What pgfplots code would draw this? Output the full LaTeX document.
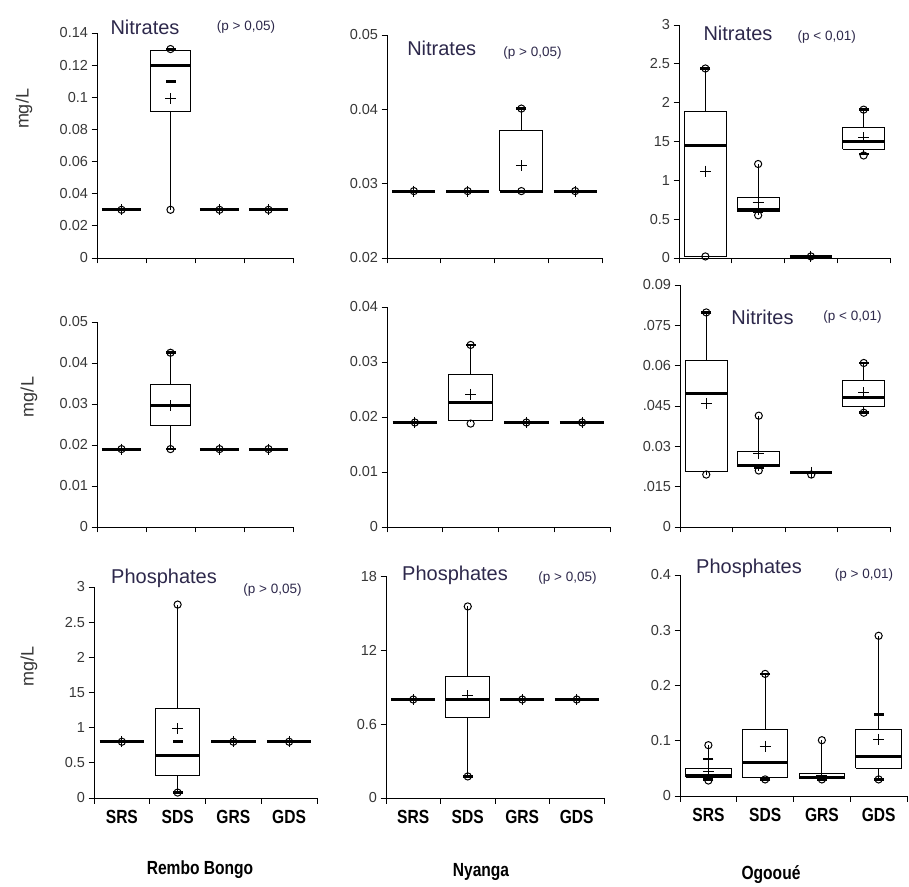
\documentclass[border=0pt]{standalone}
\usepackage{pgfplots}
\pgfplotsset{compat=1.18}
\usepackage{fontspec}
\setmainfont{Liberation Sans}
\newfontfamily\catfont[FakeStretch=0.82]{Liberation Sans}
\definecolor{tickc}{RGB}{55,55,55}
\definecolor{ttl}{RGB}{45,40,75}

\pgfplotsset{
 bp/.style={scale only axis, clip=false,
   axis x line*=bottom, axis y line*=left,
   axis line style={line width=0.9pt},
   xmin=0.5, xmax=4.5,
   xtick={0.5,1.5,2.5,3.5,4.5}, xticklabels={},
   scaled y ticks=false,
   tick align=outside,
   major tick length=5.5pt,
   every tick/.style={black, line width=0.9pt},
   yticklabel style={font=\fontsize{14.5}{16}\selectfont, color=tickc},
 },
 cats/.style={extra x ticks={1,2,3,4},
   extra x tick labels={SRS,SDS,GRS,GDS},
   extra x tick style={major tick length=0pt,
     xticklabel style={font=\catfont\bfseries\fontsize{19}{21}\selectfont, yshift=-9pt}}},
 ln/.style={black, line width=1pt, solid, mark=none},
 md/.style={black, line width=3pt, solid, mark=none},
 mn/.style={black, only marks, mark=+, mark size=5.5pt, line width=1pt},
 ci/.style={black, only marks, mark=o, mark size=3.6pt, line width=1pt},
 da/.style={black, only marks, mark=-, mark size=5pt, line width=2.6pt},
}
% box: left, centre, right, lower whisker, lower quartile, median, upper quartile, upper whisker
\newcommand\bx[8]{%
 \addplot[ln] coordinates {(#2,#4)(#2,#5)};
 \addplot[ln] coordinates {(#2,#7)(#2,#8)};
 \addplot[ln] coordinates {(#1,#5)(#3,#5)(#3,#7)(#1,#7)(#1,#5)};
 \addplot[md] coordinates {(#1,#6)(#3,#6)};}
% flat box (all values equal): left, right, value
\newcommand\fl[3]{\addplot[md] coordinates {(#1,#3)(#2,#3)};}

\begin{document}
\begin{tikzpicture}
\useasboundingbox (0,0) rectangle (909pt,886pt);

% ---------- Row 1 ----------
\begin{axis}[bp, at={(97pt,628pt)}, anchor=south west, width=196pt, height=225pt,
  ymin=0, ymax=0.14, ytick={0,0.02,0.04,0.06,0.08,0.1,0.12,0.14},
  yticklabels={0,0.02,0.04,0.06,0.08,0.1,0.12,0.14}]
\fl{0.6}{1.4}{0.03}
\bx{1.6}{2}{2.4}{0.03}{0.091}{0.12}{0.129}{0.13}
\fl{2.6}{3.4}{0.03}
\fl{3.6}{4.4}{0.03}
\addplot[da] coordinates {(2,0.13)(2,0.11)};
\addplot[ci] coordinates {(1,0.03)(2,0.03)(2,0.13)(3,0.03)(4,0.03)};
\addplot[mn] coordinates {(1,0.03)(2,0.099)(3,0.03)(4,0.03)};
\end{axis}

\begin{axis}[bp, at={(387pt,628pt)}, anchor=south west, width=215pt, height=223pt,
  ymin=0.02, ymax=0.05, ytick={0.02,0.03,0.04,0.05},
  yticklabels={0.02,0.03,0.04,0.05}]
\fl{0.6}{1.4}{0.029}
\fl{1.6}{2.4}{0.029}
\bx{2.6}{3}{3.4}{0.029}{0.029}{0.029}{0.0372}{0.0401}
\fl{3.6}{4.4}{0.029}
\addplot[da] coordinates {(3,0.0401)};
\addplot[ci] coordinates {(1,0.029)(2,0.029)(3,0.029)(3,0.0401)(4,0.029)};
\addplot[mn] coordinates {(1,0.029)(2,0.029)(3,0.0324)(4,0.029)};
\end{axis}

\begin{axis}[bp, at={(679pt,628pt)}, anchor=south west, width=211pt, height=233pt,
  ymin=0, ymax=3, ytick={0,0.5,1,1.5,2,2.5,3},
  yticklabels={0,0.5,1,15,2,2.5,3}]
\bx{0.6}{1}{1.4}{0.02}{0.02}{1.45}{1.88}{2.44}
\bx{1.6}{2}{2.4}{0.55}{0.6}{0.63}{0.78}{1.21}
\fl{2.6}{3.4}{0.02}
\bx{3.6}{4}{4.4}{1.32}{1.4}{1.5}{1.68}{1.91}
\addplot[da] coordinates {(1,2.44)(2,0.6)(4,1.91)(4,1.34)};
\addplot[ci] coordinates {(1,0.02)(1,2.44)(2,0.55)(2,1.21)(3,0.02)(4,1.32)(4,1.91)};
\addplot[mn] coordinates {(1,1.12)(2,0.72)(3,0.02)(4,1.55)};
\end{axis}

% ---------- Row 2 ----------
\begin{axis}[bp, at={(97pt,359pt)}, anchor=south west, width=196pt, height=205pt,
  ymin=0, ymax=0.05, ytick={0,0.01,0.02,0.03,0.04,0.05},
  yticklabels={0,0.01,0.02,0.03,0.04,0.05}]
\fl{0.6}{1.4}{0.019}
\bx{1.6}{2}{2.4}{0.019}{0.0247}{0.0296}{0.0348}{0.0425}
\fl{2.6}{3.4}{0.019}
\fl{3.6}{4.4}{0.019}
\addplot[da] coordinates {(2,0.0425)(2,0.019)};
\addplot[ci] coordinates {(1,0.019)(2,0.019)(2,0.0425)(3,0.019)(4,0.019)};
\addplot[mn] coordinates {(1,0.019)(2,0.0296)(3,0.019)(4,0.019)};
\end{axis}

\begin{axis}[bp, at={(387pt,359pt)}, anchor=south west, width=223pt, height=220pt,
  ymin=0, ymax=0.04, ytick={0,0.01,0.02,0.03,0.04},
  yticklabels={0,0.01,0.02,0.03,0.04}]
\fl{0.6}{1.4}{0.019}
\bx{1.6}{2}{2.4}{0.019}{0.0193}{0.0227}{0.0278}{0.0331}
\fl{2.6}{3.4}{0.019}
\fl{3.6}{4.4}{0.019}
\addplot[da] coordinates {(2,0.0331)};
\addplot[ci] coordinates {(1,0.019)(2,0.0188)(2,0.0331)(3,0.019)(4,0.019)};
\addplot[mn] coordinates {(1,0.019)(2,0.0241)(3,0.019)(4,0.019)};
\end{axis}

\begin{axis}[bp, at={(680pt,359pt)}, anchor=south west, width=210pt, height=242pt,
  ymin=0, ymax=0.09, ytick={0,0.015,0.03,0.045,0.06,0.075,0.09},
  yticklabels={0,.015,0.03,.045,0.06,.075,0.09}]
\bx{0.6}{1}{1.4}{0.0195}{0.0206}{0.0497}{0.0621}{0.0798}
\bx{1.6}{2}{2.4}{0.021}{0.0224}{0.023}{0.028}{0.0414}
\fl{2.6}{3.4}{0.0203}
\bx{3.6}{4}{4.4}{0.0425}{0.0447}{0.048}{0.0544}{0.061}
\addplot[da] coordinates {(1,0.0798)(2,0.022)(4,0.061)(4,0.0425)};
\addplot[ci] coordinates {(1,0.0195)(1,0.0798)(2,0.021)(2,0.0414)(3,0.0195)(4,0.0425)(4,0.061)};
\addplot[mn] coordinates {(1,0.046)(2,0.0274)(3,0.0203)(4,0.05)};
\end{axis}

% ---------- Row 3 ----------
\begin{axis}[bp, cats, at={(94pt,88pt)}, anchor=south west, width=223pt, height=211pt,
  ymin=0, ymax=3, ytick={0,0.5,1,1.5,2,2.5,3},
  yticklabels={0,0.5,1,15,2,2.5,3}]
\fl{0.6}{1.4}{0.8}
\bx{1.6}{2}{2.4}{0.077}{0.318}{0.607}{1.27}{2.75}
\fl{2.6}{3.4}{0.8}
\fl{3.6}{4.4}{0.8}
\addplot[da] coordinates {(2,0.8)(2,0.077)};
\addplot[ci] coordinates {(1,0.8)(2,0.077)(2,2.75)(3,0.8)(4,0.8)};
\addplot[mn] coordinates {(1,0.8)(2,0.987)(3,0.8)(4,0.8)};
\end{axis}

\begin{axis}[bp, cats, at={(386pt,88pt)}, anchor=south west, width=218pt, height=221.6pt,
  ymin=0, ymax=1.8, ytick={0,0.6,1.2,1.8},
  yticklabels={0,0.6,12,18}]
\fl{0.6}{1.4}{0.8}
\bx{1.6}{2}{2.4}{0.175}{0.65}{0.8}{0.983}{1.556}
\fl{2.6}{3.4}{0.8}
\fl{3.6}{4.4}{0.8}
\addplot[da] coordinates {(2,0.175)};
\addplot[ci] coordinates {(1,0.8)(2,0.175)(2,1.556)(3,0.8)(4,0.8)};
\addplot[mn] coordinates {(1,0.8)(2,0.83)(3,0.8)(4,0.8)};
\end{axis}

\begin{axis}[bp, cats, at={(680pt,90pt)}, anchor=south west, width=227pt, height=221pt,
  ymin=0, ymax=0.4, ytick={0,0.1,0.2,0.3,0.4},
  yticklabels={0,0.1,0.2,0.3,0.4}]
\bx{0.6}{1}{1.4}{0.03}{0.034}{0.037}{0.05}{0.092}
\bx{1.6}{2}{2.4}{0.03}{0.034}{0.061}{0.121}{0.221}
\bx{2.6}{3}{3.4}{0.03}{0.033}{0.033}{0.041}{0.101}
\bx{3.6}{4}{4.4}{0.03}{0.05}{0.0724}{0.1195}{0.29}
\addplot[da] coordinates {(1,0.067)(1,0.03)(2,0.221)(2,0.03)(3,0.03)(4,0.148)(4,0.03)};
\addplot[ci] coordinates {(1,0.092)(1,0.028)(2,0.221)(2,0.03)(3,0.101)(3,0.03)(4,0.29)(4,0.03)};
\addplot[mn] coordinates {(1,0.044)(2,0.0905)(3,0.037)(4,0.1026)};
\end{axis}

% ---------- Titles ----------
\begin{scope}[every node/.style={inner sep=0pt, text=ttl}]
\node[font=\fontsize{20}{22}\selectfont] at (145pt,859pt) {Nitrates};
\node[font=\fontsize{13.5}{15}\selectfont] at (246pt,859pt) {(p > 0,05)};
\node[font=\fontsize{20}{22}\selectfont] at (441.7pt,838pt) {Nitrates};
\node[font=\fontsize{13.5}{15}\selectfont] at (532.5pt,833pt) {(p > 0,05)};
\node[font=\fontsize{20}{22}\selectfont] at (738pt,853pt) {Nitrates};
\node[font=\fontsize{13.5}{15}\selectfont] at (826.7pt,849pt) {(p < 0,01)};
\node[font=\fontsize{20}{22}\selectfont] at (762.5pt,569pt) {Nitrites};
\node[font=\fontsize{13.5}{15}\selectfont] at (852.5pt,569pt) {(p < 0,01)};
\node[font=\fontsize{20}{22}\selectfont] at (164pt,308pt) {Phosphates};
\node[font=\fontsize{13.5}{15}\selectfont] at (272.5pt,296pt) {(p > 0,05)};
\node[font=\fontsize{20}{22}\selectfont] at (455pt,311pt) {Phosphates};
\node[font=\fontsize{13.5}{15}\selectfont] at (567.5pt,308pt) {(p > 0,05)};
\node[font=\fontsize{20}{22}\selectfont] at (749pt,318pt) {Phosphates};
\node[font=\fontsize{13.5}{15}\selectfont] at (864pt,311pt) {(p > 0,01)};
\end{scope}
\begin{scope}[every node/.style={inner sep=0pt, text=tickc, rotate=90, font=\fontsize{18}{20}\selectfont}]
\node at (24pt,777pt) {mg/L};
\node at (29pt,489pt) {mg/L};
\node at (29pt,220pt) {mg/L};
\end{scope}
\begin{scope}[every node/.style={inner sep=0pt, text=black, font=\catfont\bfseries\fontsize{19}{21}\selectfont}]
\node at (200pt,16pt) {Rembo Bongo};
\node at (481pt,14pt) {Nyanga};
\node at (771pt,11pt) {Ogooué};
\end{scope}
\end{tikzpicture}
\end{document}
